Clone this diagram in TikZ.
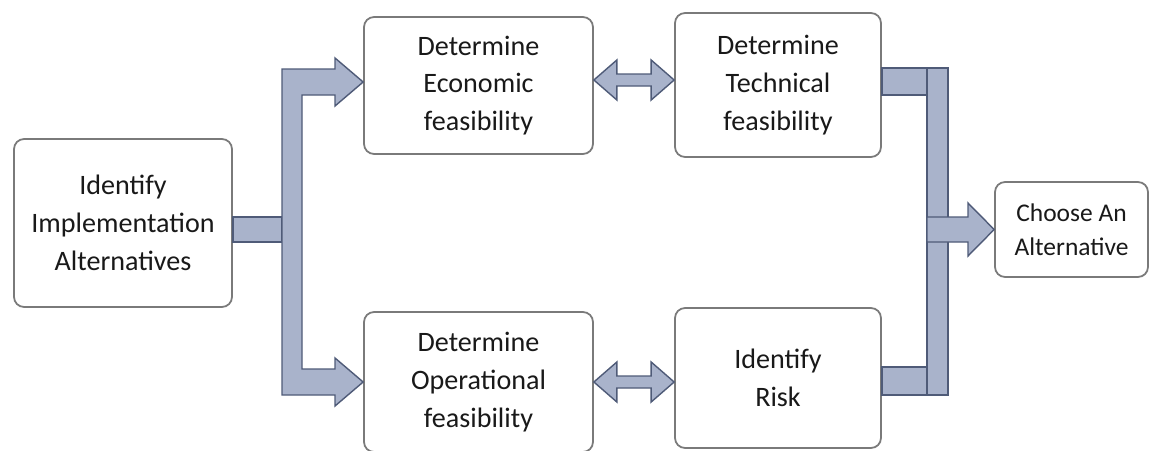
\documentclass[tikz,border=0pt]{standalone}
\usepackage{fontspec}
\setmainfont{Carlito}
\usetikzlibrary{calc}

\definecolor{riempimento}{HTML}{A9B3CB}
\definecolor{bordofreccia}{HTML}{4F5B78}
\definecolor{bordobox}{HTML}{7A7A7A}

\begin{document}
\begin{tikzpicture}[
            x=0.02cm, y=-0.02cm,
            % Stile per i riquadri (angoli arrotondati)
            box/.style={draw=bordobox, line width=1pt, rounded corners=0.2cm, fill=white,
                        align=center, inner sep=0pt, text=black!90,
                        font=\fontsize{16}{21.5}\selectfont},
            % Stile per le frecce a blocco
            blockarrow/.style={fill=riempimento, draw=bordofreccia, line width=0.8pt, line join=miter}
        ]

            \useasboundingbox (0,0) rectangle (1149,450);
            \fill[white] (0,0) rectangle (1149,450);

            % --- Riquadri ---
            \node[box, minimum width=4.36cm, minimum height=3.36cm] (iia) at (123,223) {Identify\\Implementation\\Alternatives};
            \node[box, minimum width=4.58cm, minimum height=2.74cm] (eco) at (478.5,85.5) {Determine\\Economic\\feasibility};
            \node[box, minimum width=4.12cm, minimum height=2.88cm] (tec) at (778,85) {Determine\\Technical\\feasibility};
            \node[box, minimum width=4.58cm, minimum height=2.8cm] (ope) at (478.5,382) {Determine\\Operational\\feasibility};
            \node[box, minimum width=4.12cm, minimum height=2.8cm] (risk) at (778,378) {Identify\\Risk};
            \node[box, minimum width=3.06cm, minimum height=1.9cm,
                  font=\fontsize{14.5}{19.5}\selectfont] (cho) at (1071.5,229.5) {Choose An\\Alternative};

            % --- Ramo sinistro (parentesi con due frecce) ---
            \draw[blockarrow] (iia.east |- 0,217) rectangle (282,242);
            \draw[blockarrow] (282,69) -- (335,69) -- (335,58) -- (eco.west |- 0,82) -- (335,106) -- (335,95)
                -- (302,95) -- (302,369) -- (335,369) -- (335,358) -- (ope.west |- 0,382) -- (335,406)
                -- (335,395) -- (282,395) -- cycle;

            % --- Frecce doppie tra i riquadri ---
            \foreach \a/\b/\y in {eco/tec/80, ope/risk/382} {
                \path (\a.east |- 0,\y) coordinate (l) (\b.west |- 0,\y) coordinate (r);
                \draw[blockarrow] (l) -- ($(l)+(23,-20)$) -- ($(l)+(23,-6)$) -- ($(r)+(-23,-6)$)
                    -- ($(r)+(-23,-20)$) -- (r) -- ($(r)+(-23,20)$) -- ($(r)+(-23,6)$)
                    -- ($(l)+(23,6)$) -- ($(l)+(23,20)$) -- cycle;
            }

            % --- Ramo destro (raccolta verso la scelta) ---
            \draw[blockarrow] (tec.east |- 0,68) rectangle (927,95);
            \draw[blockarrow] (risk.east |- 0,367) rectangle (927,395);
            \draw[blockarrow] (927,68) rectangle (948,395);
            \draw[blockarrow] (927,217) -- (968,217) -- (968,203) -- (cho.west) -- (968,256)
                -- (968,242) -- (927,242) -- cycle;

        \end{tikzpicture}
\end{document}
